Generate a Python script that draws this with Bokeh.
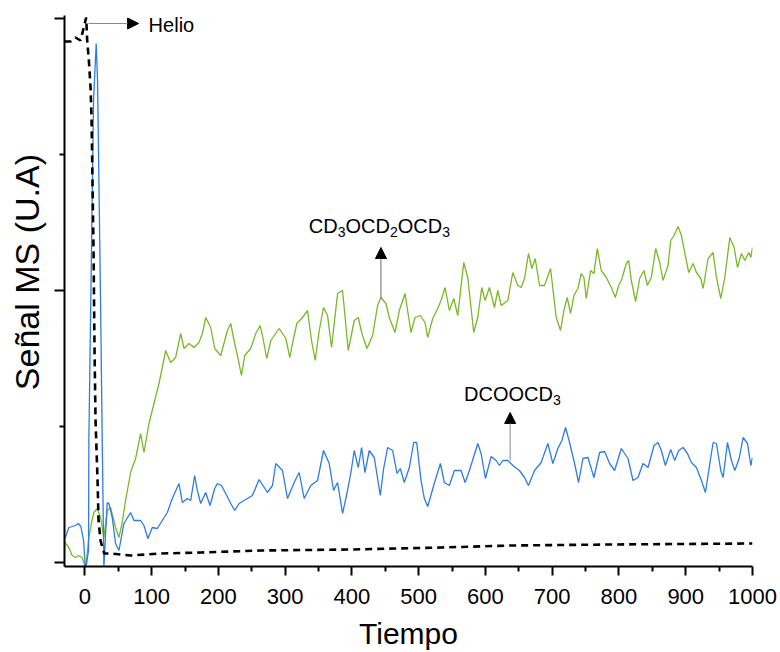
from bokeh.plotting import figure
from bokeh.models import Range1d, FixedTicker, Arrow, NormalHead, Label
from bokeh.embed import file_html
from bokeh.resources import INLINE

# ---------------- data ----------------
x_ticks = [0, 100, 200, 300, 400, 500, 600, 700, 800, 900, 1000]
x_minor = [50, 150, 250, 350, 450, 550, 650, 750, 850, 950]
y_ticks = [0, 272, 544]
y_minor = [136, 408]

# Helio (black dashed)
t_he = [-30.5, -21.5, -14, -6.5, -3.5, -0.5, 2, 3.5, 6, 8.5,
        10, 13, 14.5, 16, 19, 20.5, 23.5, 26.5, 29, 38.5,
        68.5, 113.5, 173.5, 263.5, 398.5, 533.5, 638.5, 788.5, 1000]
helio = [521, 521, 525, 522, 530, 538, 545, 522, 502, 475,
         445, 312, 212, 142, 82, 42, 22, 14, 9, 9,
         7, 9, 10, 12, 13, 15, 17, 18, 19]

# DCOOCD3 (blue)
t_dc = [-30, -24, -19, -14, -10, -6, -2, 1, 5.5, 6,
        13, 17, 19, 23.5, 26, 28.5, 33.5, 36, 41, 46,
        51, 58.5, 68.5, 73.5, 83.5, 88.5, 94.5, 101, 108.5, 116,
        123.5, 131, 141, 146, 153.5, 158.5, 164.5, 168.5, 173.5, 181,
        187.5, 194.5, 198.5, 204.5, 211, 218.5, 224.5, 231, 238.5, 251,
        261, 273.5, 281, 286, 296, 303.5, 313.5, 321, 328.5, 338.5,
        348.5, 357.5, 366, 372.5, 378.5, 386, 392.5, 398.5, 403.5, 409.5,
        414.5, 419.5, 426, 433.5, 442.5, 447.5, 453.5, 461, 467.5, 472.5,
        478.5, 486, 492.5, 497, 503.5, 508.5, 513.5, 522.5, 532.5, 538.5,
        546, 553.5, 563.5, 569.5, 576, 588.5, 593.5, 600, 608.5, 616,
        621, 626, 633.5, 641, 651, 658.5, 664.5, 673.5, 683.5, 693.5,
        701, 708.5, 714.5, 720, 726, 733.5, 739.5, 746, 753.5, 762.5,
        771, 778.5, 786, 793.5, 803.5, 813.5, 821, 828.5, 836, 843.5,
        852.5, 858.5, 863.5, 869.5, 877.5, 883.5, 889.5, 896, 902.5, 908.5,
        916, 923.5, 929.5, 934.5, 941, 946, 952.5, 956, 962.5, 968.5,
        973.5, 980, 986, 992.5, 997.5, 1000]
dcoocd3 = [24, 35, 36, 37, 39, 36, 22, -8, 12, 122,
           462, 519, 482, 262, 122, -5, 60, 59, 45, 19,
           12, 39, 50, 42, 42, 37, 24, 35, 34, 42,
           50, 64, 79, 60, 64, 62, 87, 72, 59, 70,
           57, 74, 79, 77, 69, 59, 52, 59, 62, 67,
           83, 70, 77, 99, 92, 64, 80, 90, 64, 77,
           82, 112, 99, 72, 80, 49, 69, 90, 112, 95,
           115, 90, 112, 105, 67, 94, 115, 112, 89, 94,
           80, 95, 120, 120, 82, 64, 56, 77, 99, 80,
           77, 92, 92, 80, 92, 119, 109, 84, 106, 102,
           97, 102, 102, 97, 92, 85, 77, 92, 100, 119,
           99, 114, 122, 135, 120, 99, 80, 104, 105, 85,
           110, 111, 99, 92, 114, 104, 82, 85, 99, 95,
           117, 120, 112, 97, 113, 102, 112, 115, 109, 100,
           95, 82, 70, 92, 120, 119, 92, 85, 120, 102,
           92, 104, 125, 119, 97, 105]

# CD3OCD2OCD3 (green)
t_cd = [-30, -24, -19, -14, -9, -4, 1, 6, 10, 13.5,
        18.5, 23.5, 28.5, 33.5, 38.5, 46, 51, 56, 61, 68.5,
        76, 83.5, 88.5, 96, 103.5, 111, 116, 121, 128.5, 136,
        143.5, 148.5, 156, 163.5, 171, 176, 181, 188.5, 194.5, 203.5,
        213.5, 218.5, 223.5, 231, 234.5, 239.5, 248.5, 256, 262.5, 266,
        272.5, 278.5, 291, 301, 307, 311, 317.5, 326, 333.5, 339.5,
        345, 351, 357.5, 363.5, 369.5, 378.5, 386, 394.5, 403.5, 409.5,
        415, 422.5, 431, 438.5, 443.5, 451, 456, 464.5, 471, 479.5,
        488.5, 494.5, 502.5, 509.5, 513.5, 521, 528.5, 533.5, 539.5, 546,
        552.5, 558.5, 567.5, 573.5, 582.5, 588.5, 594.5, 599.5, 606, 613.5,
        618.5, 623.5, 633.5, 641, 648.5, 653.5, 658.5, 664.5, 669.5, 674.5,
        681, 688.5, 697.5, 706, 712.5, 717.5, 722.5, 727.5, 732.5, 738.5,
        743.5, 747.5, 751, 757.5, 762.5, 767.5, 773.5, 781, 788.5, 794.5,
        799.5, 803.5, 811, 814.5, 818.5, 825, 831, 837.5, 842.5, 848.5,
        855, 861, 866, 873.5, 877.5, 882.5, 888.5, 893.5, 898.5, 904.5,
        911, 916, 922.5, 926, 933.5, 941, 946, 952.5, 958.5, 966,
        972.5, 977.5, 983.5, 988.5, 994.5, 997.5, 1000]
cd3ocd2ocd3 = [20, 15, 7, 5, 7, 5, -6, 25, 40, 50,
               54, 45, 25, 52, 55, 35, 25, 40, 62, 90,
               104, 129, 110, 139, 159, 179, 195, 212, 200, 205,
               229, 214, 219, 215, 220, 229, 245, 235, 214, 207,
               232, 239, 222, 199, 187, 207, 214, 229, 237, 227,
               204, 222, 234, 224, 205, 219, 239, 245, 252, 222,
               202, 232, 255, 247, 215, 269, 272, 212, 242, 245,
               229, 214, 227, 257, 265, 259, 245, 230, 252, 269,
               230, 245, 247, 240, 225, 244, 254, 262, 275, 252,
               264, 247, 300, 285, 230, 245, 275, 262, 275, 255,
               272, 257, 262, 290, 277, 275, 284, 309, 294, 304,
               277, 277, 294, 245, 232, 252, 265, 249, 267, 274,
               289, 285, 264, 292, 289, 314, 292, 285, 275, 265,
               277, 282, 299, 302, 282, 261, 284, 292, 277, 285,
               314, 300, 282, 297, 322, 327, 336, 327, 310, 290,
               299, 290, 284, 274, 304, 310, 285, 264, 285, 325,
               315, 295, 309, 302, 310, 305, 315]

# annotation anchors (data units)
helio_arrow = (5.5, 80.5, 539)      # x_start, x_end, y
cd_arrow = (443.5, 264, 315)        # x, y_start, y_end
dc_arrow = (637, 102, 150)          # x, y_start, y_end

FONT = "Liberation Sans"
GREEN = "#79B829"
BLUE = "#2E7BE3"
NBSP = "\u00a0"

p = figure(width=780, height=652, output_backend="svg", toolbar_location=None,
           x_range=Range1d(-30.5, 1000), y_range=Range1d(-4, 547),
           min_border_left=64, min_border_right=28, min_border_top=15,
           min_border_bottom=86)
p.outline_line_color = None
p.xgrid.visible = False
p.ygrid.visible = False
p.background_fill_color = "white"
p.border_fill_color = "white"

p.line(t_cd, cd3ocd2ocd3, color=GREEN, line_width=1.3)
p.line(t_dc, dcoocd3, color=BLUE, line_width=1.3)
p.line(t_he, helio, color="black", line_width=2.6, line_dash="7 5")

# axes
for ax in (p.xaxis[0], p.yaxis[0]):
    ax.axis_line_width = 2
    ax.axis_line_color = "black"
    ax.major_tick_line_width = 2
    ax.minor_tick_line_width = 2
    ax.major_tick_in = 0
    ax.minor_tick_in = 0
    ax.minor_tick_out = 5
    ax.major_label_text_font = FONT
    ax.major_label_text_font_size = "22px"
    ax.major_label_text_color = "black"
    ax.axis_label_text_font = FONT
    ax.axis_label_text_font_style = "normal"
    ax.axis_label_text_color = "black"

p.xaxis.ticker = FixedTicker(ticks=x_ticks, minor_ticks=x_minor)
p.xaxis.major_tick_out = 9
p.xaxis.major_label_standoff = 13
p.xaxis.axis_label = "Tiempo"
p.xaxis.axis_label_text_font_size = "30px"
p.xaxis.axis_label_standoff = 10

p.yaxis.ticker = FixedTicker(ticks=y_ticks, minor_ticks=y_minor)
p.yaxis.major_tick_out = 10
p.yaxis.major_label_overrides = {t: "" for t in y_ticks}
p.yaxis.major_label_standoff = 0
p.yaxis.axis_label = NBSP * 4 + "Señal MS (U.A)"
p.yaxis.axis_label_text_font_size = "34px"
p.yaxis.axis_label_standoff = 9

# annotations
head = lambda: NormalHead(size=11, fill_color="black", line_color="black", line_width=1)
p.add_layout(Arrow(end=head(), x_start=helio_arrow[0], y_start=helio_arrow[2],
                   x_end=helio_arrow[1], y_end=helio_arrow[2],
                   line_color="#8a8a8a", line_width=1))
p.add_layout(Arrow(end=head(), x_start=cd_arrow[0], y_start=cd_arrow[1],
                   x_end=cd_arrow[0], y_end=cd_arrow[2],
                   line_color="#6a6a6a", line_width=1))
p.add_layout(Arrow(end=head(), x_start=dc_arrow[0], y_start=dc_arrow[1],
                   x_end=dc_arrow[0], y_end=dc_arrow[2],
                   line_color="#8a8a8a", line_width=1))

p.add_layout(Label(x=95.5, y=538, text="Helio", text_font=FONT,
                   text_font_size="20px", text_baseline="middle", text_color="black"))

def formula(x, y, parts):
    # parts: (text, pixel offset, is_subscript)
    for txt, off, sub in parts:
        p.add_layout(Label(x=x, y=y, x_offset=off, y_offset=5 if sub else 11,
                           text=txt, text_font=FONT,
                           text_font_size="14px" if sub else "20px",
                           text_baseline="alphabetic", text_color="black"))

formula(335.5, 326, [("CD", 0, False), ("3", 28.9, True), ("OCD", 36.7, False),
                     ("2", 81.1, True), ("OCD", 88.9, False), ("3", 133.3, True)])
formula(568, 158, [("DCOOCD", 0, False), ("3", 88.9, True)])

open("out.html", "w").write(file_html(p, INLINE))
